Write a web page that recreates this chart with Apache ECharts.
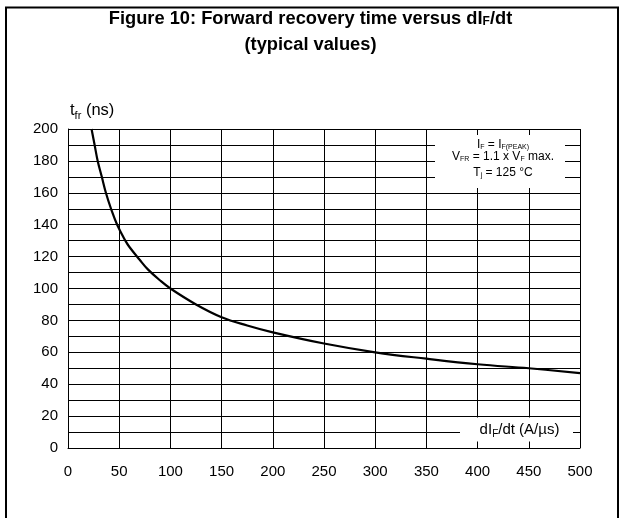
<!DOCTYPE html>
<html>
<head>
<meta charset="utf-8">
<script src="https://cdn.jsdelivr.net/npm/echarts@6/dist/echarts.min.js"></script>
<style>
html,body{margin:0;padding:0;background:#fff;}
#chart{width:621px;height:518px;}
</style>
</head>
<body>
<div id="chart"></div>
<script>
// dIF/dt (A/µs)
const rateX = [23, 26, 29, 33, 37, 42, 48, 56, 60, 70, 78, 90, 100, 125, 150, 175, 200, 250, 300, 350, 400, 450, 500];
// tfr (ns)
const tfrY = [200, 190, 180, 170, 160, 150, 140, 130, 126, 118, 112, 105, 100, 90, 82, 76.8, 72.5, 65.5, 60, 56, 52.5, 50, 47];
const xMin = 0, xMax = 500, xStep = 50;
const yMin = 0, yMax = 200, yStep = 20;

const FONT = '"Liberation Sans", Arial, Helvetica, sans-serif';
const chart = echarts.init(document.getElementById('chart'), null, {renderer: 'canvas'});
const line = {color: '#000', width: 1};
const annoRich = {
  n: {fontFamily: FONT, fontSize: 12, lineHeight: 12, color: '#000'},
  s: {fontFamily: FONT, fontSize: 7, lineHeight: 12, verticalAlign: 'bottom', color: '#000'}
};

chart.setOption({
  backgroundColor: '#fff',
  animation: false,
  textStyle: {fontFamily: FONT, color: '#000'},
  title: {
    left: 'center',
    top: 6,
    padding: 0,
    text: '{b|Figure 10: Forward recovery time versus dI}{bs|F}{b|/dt}\n{b|(typical values)}',
    textStyle: {
      rich: {
        b: {fontFamily: FONT, fontWeight: 'bold', fontSize: 18.3, lineHeight: 26, color: '#000'},
        bs: {fontFamily: FONT, fontWeight: 'bold', fontSize: 12, lineHeight: 26, verticalAlign: 'bottom', padding: [0,0,4,0], color: '#000'}
      }
    }
  },
  grid: {left: 68, right: 41, top: 129, bottom: 70, containLabel: false},
  xAxis: {
    type: 'value', min: xMin, max: xMax, interval: xStep,
    axisLine: {show: true, lineStyle: line},
    axisTick: {show: false},
    axisLabel: {fontFamily: FONT, fontSize: 15, color: '#000', margin: 16},
    splitLine: {show: true, lineStyle: line}
  },
  yAxis: {
    type: 'value', min: yMin, max: yMax, interval: yStep,
    axisLine: {show: true, lineStyle: line},
    axisTick: {show: false},
    axisLabel: {fontFamily: FONT, fontSize: 15, color: '#000', margin: 10},
    splitLine: {show: true, lineStyle: line},
    minorTick: {show: false, splitNumber: 2},
    minorSplitLine: {show: true, lineStyle: line}
  },
  series: [{
    type: 'line',
    data: rateX.map((x, i) => [x, tfrY[i]]),
    smooth: 0.4,
    symbol: 'none',
    lineStyle: {color: '#000', width: 2.2},
    z: 3
  }],
  graphic: [
    // outer frame
    {type: 'polyline', z: 20, shape: {points: [[6, 518], [6, 7.5], [618, 7.5], [618, 518]]}, style: {stroke: '#000', lineWidth: 2, fill: null}},
    // y axis name
    {type: 'text', z: 20, left: 70, top: 102, style: {
      text: '{n|t}{s|fr}{n| (ns)}',
      rich: {
        n: {fontFamily: FONT, fontSize: 16.5, lineHeight: 22, color: '#000'},
        s: {fontFamily: FONT, fontSize: 11, lineHeight: 22, verticalAlign: 'bottom', color: '#000'}
      }
    }},
    // annotation box
    {type: 'rect', z: 10, shape: {x: 435, y: 135, width: 130, height: 53}, style: {fill: '#fff'}},
    {type: 'text', z: 20, x: 503, y: 145, style: {
      text: '{n|I}{s|F}{n| = I}{s|F(PEAK)}', align: 'center', verticalAlign: 'middle', rich: annoRich
    }},
    {type: 'text', z: 20, x: 503, y: 157, style: {
      text: '{n|V}{s|FR}{n| = 1.1 x V}{s|F}{n| max.}', align: 'center', verticalAlign: 'middle', rich: annoRich
    }},
    {type: 'text', z: 20, x: 503, y: 172.5, style: {
      text: '{n|T}{s|j}{n| = 125 °C}', align: 'center', verticalAlign: 'middle', rich: annoRich
    }},
    // x axis name box
    {type: 'rect', z: 10, shape: {x: 460, y: 417.5, width: 113, height: 24}, style: {fill: '#fff'}},
    {type: 'text', z: 20, x: 519.5, y: 430, style: {
      text: '{n|dI}{s|F}{n|/dt (A/µs)}', align: 'center', verticalAlign: 'middle',
      rich: {n: {fontFamily: FONT, fontSize: 15, lineHeight: 18, color: '#000'}, s: {fontFamily: FONT, fontSize: 10, lineHeight: 18, verticalAlign: 'bottom', color: '#000'}}
    }}
  ]
});
</script>
</body>
</html>
